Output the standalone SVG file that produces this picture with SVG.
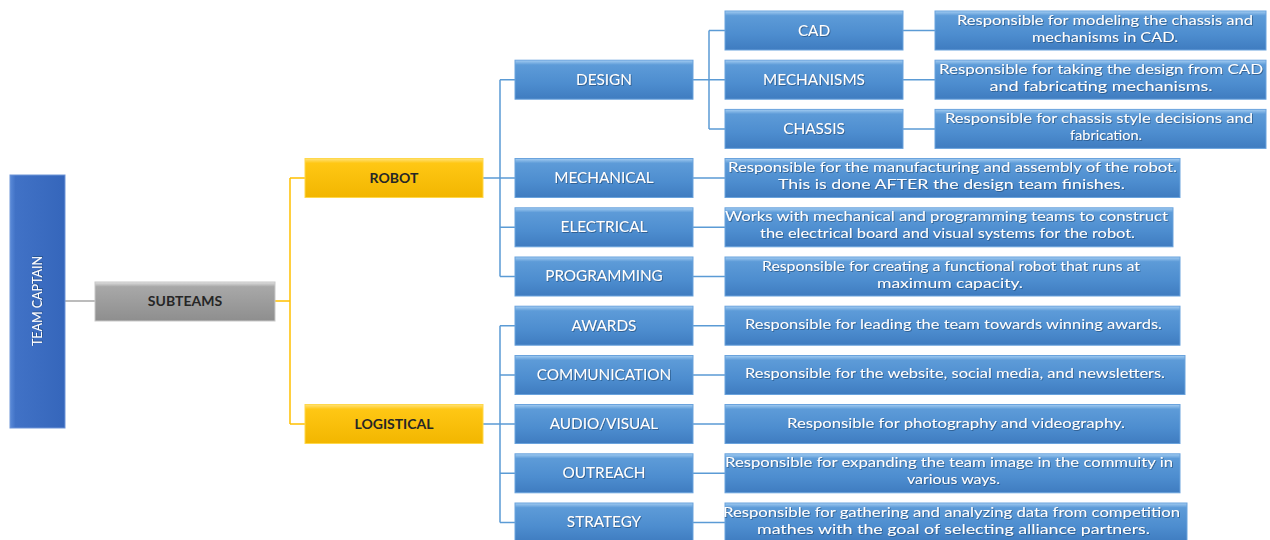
<svg xmlns="http://www.w3.org/2000/svg" width="1270" height="540" viewBox="0 0 1270 540">
<defs>
<linearGradient id="gBlue" x1="0" y1="0" x2="0" y2="1">
<stop offset="0" stop-color="#a4cdf2"/>
<stop offset="0.12" stop-color="#5d9bd8"/>
<stop offset="0.6" stop-color="#4d8dcf"/>
<stop offset="1" stop-color="#3f7cc0"/>
</linearGradient>
<linearGradient id="gNavy" x1="0" y1="0" x2="1" y2="0">
<stop offset="0" stop-color="#5a8ad8"/>
<stop offset="0.1" stop-color="#4172c6"/>
<stop offset="1" stop-color="#3566bb"/>
</linearGradient>
<linearGradient id="gGray" x1="0" y1="0" x2="0" y2="1">
<stop offset="0" stop-color="#e2e2e2"/>
<stop offset="0.12" stop-color="#a8a8a8"/>
<stop offset="1" stop-color="#8e8e8e"/>
</linearGradient>
<linearGradient id="gGold" x1="0" y1="0" x2="0" y2="1">
<stop offset="0" stop-color="#ffe27a"/>
<stop offset="0.12" stop-color="#ffc714"/>
<stop offset="1" stop-color="#f2b600"/>
</linearGradient>
<filter id="sh" x="-5%" y="-20%" width="110%" height="140%">
<feDropShadow dx="0.8" dy="0.8" stdDeviation="0.6" flood-color="#1d3f66" flood-opacity="0.7"/>
</filter>
</defs>
<style>
.blue{fill:url(#gBlue);stroke:#6aa3dd;stroke-width:1}
.navy{fill:url(#gNavy);stroke:#6f95d8;stroke-width:1}
.gray{fill:url(#gGray);stroke:#c8c8c8;stroke-width:1}
.gold{fill:url(#gGold);stroke:#ffd84a;stroke-width:1}
.lbl{font-family:Lato,"Liberation Sans",sans-serif;font-size:15.3px;fill:#ffffff;text-anchor:middle;filter:url(#sh)}
.cap{font-family:Lato,"Liberation Sans",sans-serif;font-size:12.5px;fill:#ffffff;text-anchor:middle;filter:url(#sh)}
.dsc{font-family:Lato,"Liberation Sans",sans-serif;font-size:14px;fill:#ffffff;text-anchor:middle;filter:url(#sh)}
.dark{font-family:Lato,"Liberation Sans",sans-serif;font-size:14px;font-weight:bold;fill:#262626;text-anchor:middle}
.cb{fill:none;stroke:#5b9bd5;stroke-width:1.5}
.cy{fill:none;stroke:#ffc000;stroke-width:1.5}
.cg{fill:none;stroke:#a6a6a6;stroke-width:1.5}
</style>

<g id="connectors">
<path class="cg" d="M65 301 H95"/>
<path class="cy" d="M275 301 H290 M290 178 V424 M290 178 H305 M290 424 H305"/>
<path class="cb" d="M483 178 H500 M500 79.7 V276.5 M500 79.7 H515 M500 178 H515 M500 227.3 H515 M500 276.5 H515"/>
<path class="cb" d="M483 424 H500 M500 325.7 V522.5 M500 325.7 H515 M500 375 H515 M500 424 H515 M500 473.3 H515 M500 522.5 H515"/>
<path class="cb" d="M693 79.7 H709 M709 30.5 V129 M709 30.5 H725 M709 79.7 H725 M709 129 H725"/>
<path class="cb" d="M903 30.5 H935 M903 79.7 H935 M903 129 H935"/>
<path class="cb" d="M693 178 H725 M693 227.3 H725 M693 276.5 H725 M693 325.7 H725 M693 375 H725 M693 424 H725 M693 473.3 H725 M693 522.5 H725"/>
</g>

<g id="team-captain">
<rect class="navy" x="10" y="175" width="55" height="253"/>
<text class="cap" transform="translate(42 301) rotate(-90)">TEAM CAPTAIN</text>
</g>
<g id="subteams">
<rect class="gray" x="95" y="282" width="180" height="39"/>
<text class="dark" x="185" y="306">SUBTEAMS</text>
</g>
<g id="robot">
<rect class="gold" x="305" y="158.5" width="178" height="39"/>
<text class="dark" x="394" y="183">ROBOT</text>
</g>
<g id="logistical">
<rect class="gold" x="305" y="404.5" width="178" height="39"/>
<text class="dark" x="394" y="429">LOGISTICAL</text>
</g>

<g id="design">
<rect class="blue" x="515" y="60.2" width="178" height="39"/>
<text class="lbl" x="604" y="84.5">DESIGN</text>
</g>
<g id="mechanical">
<rect class="blue" x="515" y="158.5" width="178" height="39"/>
<text class="lbl" x="604" y="183">MECHANICAL</text>
</g>
<g id="electrical">
<rect class="blue" x="515" y="207.8" width="178" height="39"/>
<text class="lbl" x="604" y="232">ELECTRICAL</text>
</g>
<g id="programming">
<rect class="blue" x="515" y="257" width="178" height="39"/>
<text class="lbl" x="604" y="281">PROGRAMMING</text>
</g>
<g id="awards">
<rect class="blue" x="515" y="306.2" width="178" height="39"/>
<text class="lbl" x="604" y="330.5">AWARDS</text>
</g>
<g id="communication">
<rect class="blue" x="515" y="355.5" width="178" height="39"/>
<text class="lbl" x="604" y="380">COMMUNICATION</text>
</g>
<g id="audio-visual">
<rect class="blue" x="515" y="404.5" width="178" height="39"/>
<text class="lbl" x="604" y="429">AUDIO/VISUAL</text>
</g>
<g id="outreach">
<rect class="blue" x="515" y="453.8" width="178" height="39"/>
<text class="lbl" x="604" y="478">OUTREACH</text>
</g>
<g id="strategy">
<rect class="blue" x="515" y="503" width="178" height="39"/>
<text class="lbl" x="604" y="527">STRATEGY</text>
</g>

<g id="cad">
<rect class="blue" x="725" y="11" width="178" height="39"/>
<text class="lbl" x="814" y="35.5">CAD</text>
</g>
<g id="mechanisms">
<rect class="blue" x="725" y="60.2" width="178" height="39"/>
<text class="lbl" x="814" y="84.5">MECHANISMS</text>
</g>
<g id="chassis">
<rect class="blue" x="725" y="109.4" width="178" height="39"/>
<text class="lbl" x="814" y="134">CHASSIS</text>
</g>

<g id="cad-desc">
<rect class="blue" x="935" y="11" width="331" height="39"/>
<text class="dsc" x="1105" y="24.5" textLength="296" lengthAdjust="spacingAndGlyphs">Responsible for modeling the chassis and</text>
<text class="dsc" x="1105" y="41.5" textLength="146" lengthAdjust="spacingAndGlyphs">mechanisms in CAD.</text>
</g>
<g id="mechanisms-desc">
<rect class="blue" x="935" y="60.2" width="331" height="39"/>
<text class="dsc" x="1101" y="73.7" textLength="324" lengthAdjust="spacingAndGlyphs">Responsible for taking the design from CAD</text>
<text class="dsc" x="1101" y="90.7" textLength="223" lengthAdjust="spacingAndGlyphs">and fabricating mechanisms.</text>
</g>
<g id="chassis-desc">
<rect class="blue" x="935" y="109.4" width="331" height="39"/>
<text class="dsc" x="1099" y="122.9" textLength="308" lengthAdjust="spacingAndGlyphs">Responsible for chassis style decisions and</text>
<text class="dsc" x="1106" y="139.9" textLength="72" lengthAdjust="spacingAndGlyphs">fabrication.</text>
</g>
<g id="mechanical-desc">
<rect class="blue" x="725" y="158.5" width="455" height="39"/>
<text class="dsc" x="952.5" y="172" textLength="449" lengthAdjust="spacingAndGlyphs">Responsible for the manufacturing and assembly of the robot.</text>
<text class="dsc" x="951.5" y="189" textLength="347" lengthAdjust="spacingAndGlyphs">This is done AFTER the design team finishes.</text>
</g>
<g id="electrical-desc">
<rect class="blue" x="725" y="207.8" width="448" height="39"/>
<text class="dsc" x="946.5" y="221.3" textLength="443" lengthAdjust="spacingAndGlyphs">Works with mechanical and programming teams to construct</text>
<text class="dsc" x="947.5" y="238.3" textLength="375" lengthAdjust="spacingAndGlyphs">the electrical board and visual systems for the robot.</text>
</g>
<g id="programming-desc">
<rect class="blue" x="725" y="257" width="455" height="39"/>
<text class="dsc" x="951" y="270.5" textLength="378" lengthAdjust="spacingAndGlyphs">Responsible for creating a functional robot that runs at</text>
<text class="dsc" x="950" y="287.5" textLength="146" lengthAdjust="spacingAndGlyphs">maximum capacity.</text>
</g>
<g id="awards-desc">
<rect class="blue" x="725" y="306.2" width="455" height="39"/>
<text class="dsc" x="953.5" y="328.5" textLength="417" lengthAdjust="spacingAndGlyphs">Responsible for leading the team towards winning awards.</text>
</g>
<g id="communication-desc">
<rect class="blue" x="725" y="355.5" width="460" height="39"/>
<text class="dsc" x="955" y="378" textLength="420" lengthAdjust="spacingAndGlyphs">Responsible for the website, social media, and newsletters.</text>
</g>
<g id="audio-visual-desc">
<rect class="blue" x="725" y="404.5" width="455" height="39"/>
<text class="dsc" x="956" y="427.5" textLength="338" lengthAdjust="spacingAndGlyphs">Responsible for photography and videography.</text>
</g>
<g id="outreach-desc">
<rect class="blue" x="725" y="453.8" width="455" height="39"/>
<text class="dsc" x="949" y="467.3" textLength="448" lengthAdjust="spacingAndGlyphs">Responsible for expanding the team image in the commuity in</text>
<text class="dsc" x="953.5" y="484.3" textLength="93" lengthAdjust="spacingAndGlyphs">various ways.</text>
</g>
<g id="strategy-desc">
<rect class="blue" x="725" y="503" width="462" height="39"/>
<text class="dsc" x="951.5" y="516.5" textLength="457" lengthAdjust="spacingAndGlyphs">Responsible for gathering and analyzing data from competition</text>
<text class="dsc" x="953.5" y="533.5" textLength="393" lengthAdjust="spacingAndGlyphs">mathes with the goal of selecting alliance partners.</text>
</g>
</svg>
